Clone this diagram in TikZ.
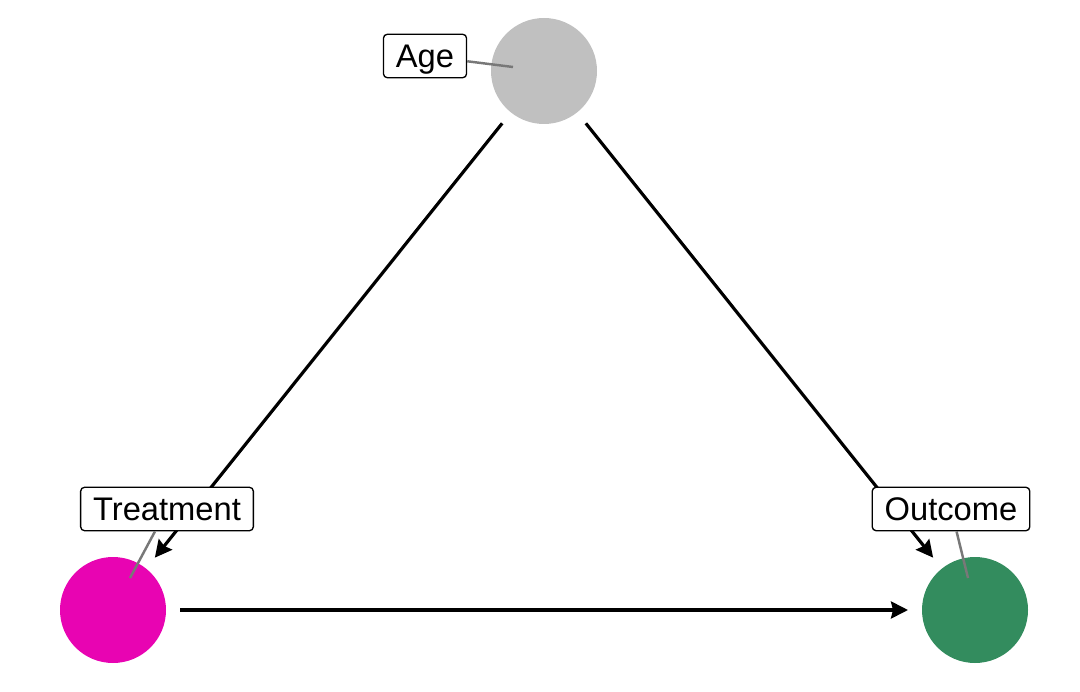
\documentclass[tikz,border=0pt]{standalone}
\usepackage{fontspec}
\setmainfont{Liberation Sans}
\usepackage{tikz}
\usetikzlibrary{automata}
\usetikzlibrary{positioning}
\usetikzlibrary{arrows.meta}
\definecolor{treatcol}{RGB}{232,4,178}
\definecolor{outcol}{RGB}{51,140,94}
\definecolor{agecol}{RGB}{192,192,192}
\tikzset{
    node distance=17.24cm, % Treatment to Outcome, centre to centre
    every state/.style={ % Sets the properties for each variable
        draw=none,
        minimum size=2.12cm,
        outer sep=0.28cm
    },
    every edge/.style={ % Sets the properties for each causal arrow
        draw,
        ->,>={Stealth[length=0.34cm,width=0.34cm,inset=0.04cm]},
        line width=1.8pt
    },
    varlabel/.style={ % Boxes with the variable names
        draw, fill=white, line width=0.75pt,
        rounded corners=0.08cm,
        font=\fontsize{18.6}{22}\selectfont,
        inner xsep=0.25cm, inner ysep=0.2cm,
        text height=0.47cm, text depth=0cm
    },
    leader/.style={draw=black!53, line width=1.4pt}
}
\begin{document}
\begin{tikzpicture}
            \useasboundingbox (0,0) rectangle (21.6,13.82);
            \node[state, fill=agecol] (age) at (10.88,12.4) {};
            \node[state, fill=treatcol] (treat) at (2.26,1.62) {};
            \node[state, fill=outcol, right of=treat] (outcome) {};

            \draw (age) edge (treat);
            \draw (age) edge (outcome);
            \draw (treat) edge (outcome);

            \coordinate (agepin) at (10.26,12.48);
            \coordinate (treatpin) at (2.6,2.26);
            \coordinate (outpin) at (19.36,2.26);

            \node[varlabel] (agelab) at (8.5,12.7) {Age};
            \node[varlabel] (treatlab) at (3.34,3.64) {Treatment};
            \node[varlabel] (outlab) at (19.02,3.64) {Outcome};

            \draw[leader] (agepin) -- (agelab);
            \draw[leader] (treatpin) -- (treatlab);
            \draw[leader] (outpin) -- (outlab);
        \end{tikzpicture}
\end{document}
